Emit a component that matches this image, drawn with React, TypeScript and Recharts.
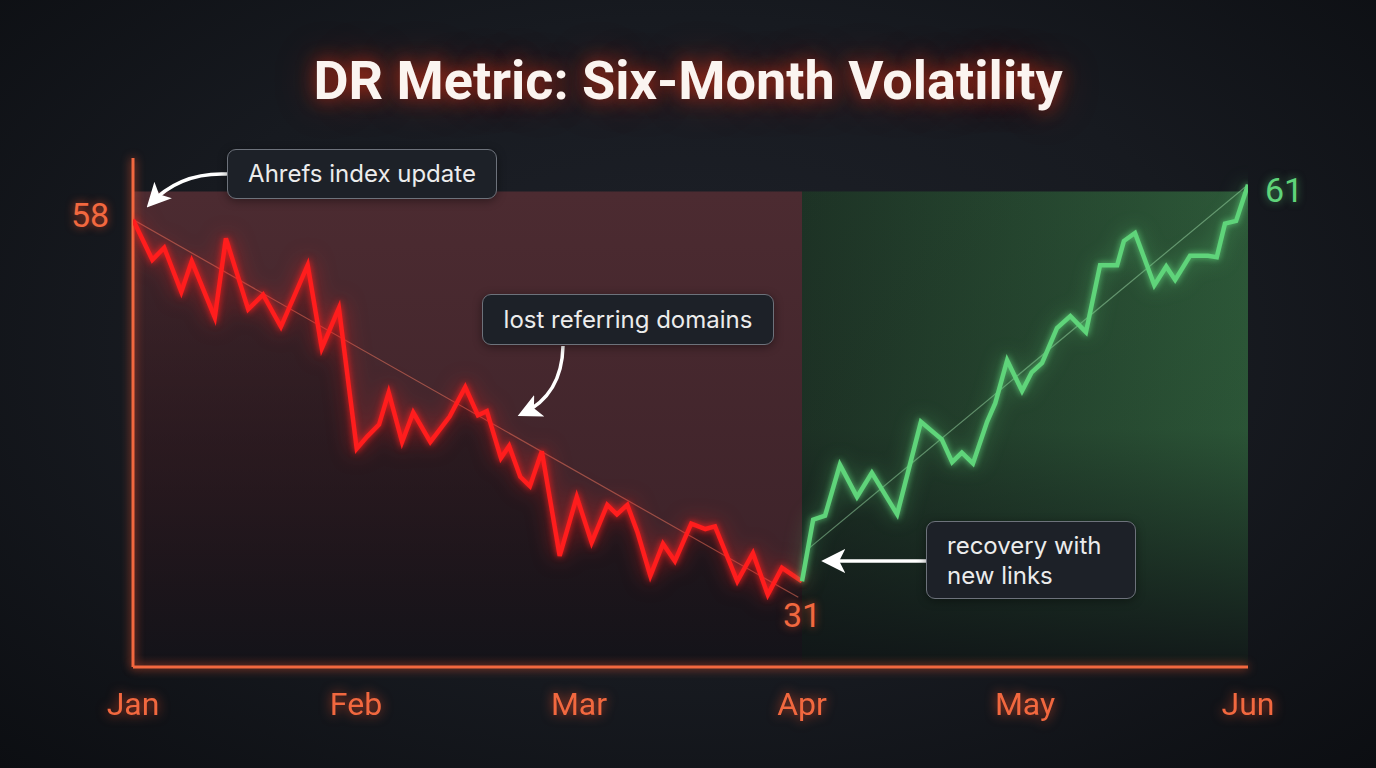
import React from "react";
import {
  ComposedChart,
  Line,
  Area,
  XAxis,
  YAxis,
  ReferenceArea,
  ReferenceLine,
} from "recharts";

/* ── Data ─────────────────────────────────────────────────── */

const monthLabels = ["Jan", "Feb", "Mar", "Apr", "May", "Jun"];
const monthTicks = [0, 30, 60, 90, 120, 150];

// day offset from Jan 1, DR value
const declineDays = [
  0, 2.6, 4.2, 6.5, 7.9, 11.0, 12.5, 15.5, 17.5, 19.9, 23.5, 25.4, 27.7, 30.1,
  31.5, 33.1, 34.4, 36.2, 37.7, 40.0, 42.6, 44.7, 46.4, 47.6, 49.5, 50.6, 52.1,
  53.4, 55.0, 57.4, 59.7, 61.7, 63.8, 65.1, 66.5, 67.9, 69.6, 71.3, 72.9, 75.1,
  77.0, 78.3, 81.3, 83.4, 85.4, 87.3, 90,
];
const declineDR = [
  58.0, 55.0, 55.9, 52.6, 54.9, 50.7, 56.6, 51.3, 52.4, 50.0, 54.6, 48.4, 51.4,
  40.9, 41.8, 42.7, 45.1, 41.4, 43.6, 41.4, 43.3, 45.5, 43.4, 43.7, 40.2, 41.1,
  38.8, 38.1, 40.7, 32.9, 37.3, 33.9, 36.7, 36.0, 36.7, 34.6, 31.4, 33.8, 32.5,
  35.3, 34.9, 35.1, 31.0, 33.1, 30.0, 32.0, 31.0,
];

const recoveryDays = [
  90, 91.5, 93.1, 95.1, 97.4, 99.4, 102.8, 106.0, 108.8, 110.2, 111.5, 113.0,
  114.9, 116.0, 117.6, 119.6, 120.9, 122.3, 124.3, 126.1, 128.2, 130.1, 132.4,
  133.3, 134.8, 137.4, 139.0, 140.2, 142.2, 144.6, 145.8, 146.9, 148.4, 150,
];
const recoveryDR = [
  31.0, 35.6, 35.9, 39.7, 37.3, 39.1, 36.0, 42.9, 41.6, 39.9, 40.6, 39.8, 42.9,
  44.3, 47.5, 45.2, 46.6, 47.3, 49.9, 50.8, 49.6, 54.6, 54.6, 56.4, 57.0, 53.1,
  54.5, 53.5, 55.3, 55.3, 55.2, 57.7, 57.9, 60.6,
];

const declineTrendDays = [0, 89.5];
const declineTrendDR = [58, 29.8];
const recoveryTrendDays = [90.8, 150];
const recoveryTrendDR = [33.4, 60.6];

const toRows = (days: number[], vals: number[]) =>
  days.map((d, i) => ({ day: d, dr: vals[i] }));

const declineRows = toRows(declineDays, declineDR);
const recoveryRows = toRows(recoveryDays, recoveryDR);
const declineTrend = toRows(declineTrendDays, declineTrendDR);
const recoveryTrend = toRows(recoveryTrendDays, recoveryTrendDR);

const Y_MIN = 24.6;
const Y_MAX = 62.6;
const BAND_TOP = 60.1;

const CORAL = "#f2683f";
const RED = "#ff1d1d";
const GREEN = "#5fd47a";

/* ── Pieces ───────────────────────────────────────────────── */

function MonthTick({ x, y, payload }: any) {
  return (
    <text
      x={x}
      y={y + 48}
      textAnchor="middle"
      fill={CORAL}
      fontSize={32}
      fontFamily="Roboto, sans-serif"
      className="glow-text"
    >
      {monthLabels[monthTicks.indexOf(payload.value)]}
    </text>
  );
}

const boxStyle: React.CSSProperties = {
  position: "absolute",
  background: "#1d2128",
  border: "1.5px solid #6d727b",
  borderRadius: 9,
  color: "#ececec",
  fontFamily: "Inter, sans-serif",
  fontSize: 24,
  boxSizing: "border-box",
  boxShadow: "0 2px 10px rgba(0,0,0,0.4)",
};

const css = `
.glow-red .recharts-line-curve { filter: drop-shadow(0 0 3px rgba(255,30,30,0.95)) drop-shadow(0 0 10px rgba(255,30,30,0.5)); }
.glow-green .recharts-line-curve { filter: drop-shadow(0 0 3px rgba(95,212,122,0.85)) drop-shadow(0 0 10px rgba(95,212,122,0.4)); }
.recharts-xAxis .recharts-cartesian-axis-line { filter: drop-shadow(0 0 5px rgba(255,90,50,0.9)); }
.axis-y line { filter: drop-shadow(0 0 5px rgba(255,90,50,0.9)); }
.glow-text { filter: drop-shadow(0 0 6px rgba(255,80,40,0.7)); }
`;

export default function App() {
  return (
    <div
      style={{
        position: "absolute",
        left: 0,
        top: 0,
        width: 1376,
        height: 768,
        overflow: "hidden",
        background:
          "radial-gradient(ellipse at 50% 45%, #1e2129 0%, #171a20 55%, #0c0e12 100%)",
      }}
    >
      <style>{css}</style>
      <div
        style={{
          position: "absolute",
          top: 48,
          left: 0,
          width: 1376,
          textAlign: "center",
          color: "#fbf4f0",
          fontFamily: "Roboto, sans-serif",
          fontWeight: 700,
          fontSize: 54,
          lineHeight: "66px",
          textShadow:
            "0 0 18px rgba(220,50,20,0.75), 0 0 40px rgba(200,40,20,0.45)",
        }}
      >
        DR Metric: Six-Month Volatility
      </div>

      <div style={{ position: "absolute", left: 0, top: 0 }}>
        <ComposedChart
          width={1376}
          height={768}
          margin={{ top: 158, right: 128, bottom: 41, left: 133 }}
        >
          <defs>
            <linearGradient id="redBand" x1="0" y1="0" x2="0" y2="1">
              <stop offset="0%" stopColor="#4c2b31" />
              <stop offset="100%" stopColor="#3a2128" />
            </linearGradient>
            <linearGradient id="redUnder" x1="0" y1="0" x2="0" y2="1">
              <stop offset="0%" stopColor="#140e12" stopOpacity={0.15} />
              <stop offset="55%" stopColor="#140f14" stopOpacity={0.55} />
              <stop offset="100%" stopColor="#101218" stopOpacity={0.92} />
            </linearGradient>
            <linearGradient id="greenBand" x1="0" y1="0" x2="1" y2="0">
              <stop offset="0%" stopColor="#1f3627" />
              <stop offset="100%" stopColor="#30603c" />
            </linearGradient>
            <linearGradient id="greenFade" x1="0" y1="0" x2="0" y2="1">
              <stop offset="0%" stopColor="#0f1316" stopOpacity={0.1} />
              <stop offset="50%" stopColor="#0f1316" stopOpacity={0.15} />
              <stop offset="100%" stopColor="#0f1316" stopOpacity={0.92} />
            </linearGradient>
          </defs>
          <XAxis
            dataKey="day"
            type="number"
            domain={[0, 150]}
            ticks={monthTicks}
            tick={<MonthTick />}
            tickLine={false}
            tickSize={0}
            tickMargin={0}
            height={60}
            axisLine={{ stroke: CORAL, strokeWidth: 3 }}
            allowDataOverflow
          />
          <YAxis
            type="number"
            domain={[Y_MIN, Y_MAX]}
            hide
            allowDataOverflow
          />
          <ReferenceArea
            x1={0}
            x2={90}
            y1={Y_MIN}
            y2={BAND_TOP}
            fill="url(#redBand)"
            fillOpacity={1}
            stroke="none"
          />
          <ReferenceArea
            x1={90}
            x2={150}
            y1={Y_MIN}
            y2={BAND_TOP}
            fill="url(#greenBand)"
            fillOpacity={1}
            stroke="none"
          />
          <ReferenceArea
            x1={90}
            x2={150}
            y1={Y_MIN}
            y2={BAND_TOP}
            fill="url(#greenFade)"
            fillOpacity={1}
            stroke="none"
          />
          <Area
            data={declineRows}
            dataKey="dr"
            type="linear"
            baseValue={Y_MIN}
            stroke="none"
            fill="url(#redUnder)"
            fillOpacity={1}
            isAnimationActive={false}
          />
          <ReferenceLine
            x={0}
            stroke={CORAL}
            strokeWidth={3}
            className="axis-y"
          />
          <Line
            data={declineTrend}
            dataKey="dr"
            type="linear"
            stroke="#e8735c"
            strokeOpacity={0.55}
            strokeWidth={1.2}
            dot={false}
            isAnimationActive={false}
          />
          <Line
            data={recoveryTrend}
            dataKey="dr"
            type="linear"
            stroke="#9fdcaa"
            strokeOpacity={0.5}
            strokeWidth={1.2}
            dot={false}
            isAnimationActive={false}
          />
          <Line
            data={declineRows}
            dataKey="dr"
            type="linear"
            stroke={RED}
            strokeWidth={4.5}
            strokeLinejoin="miter"
            dot={false}
            className="glow-red"
            isAnimationActive={false}
          />
          <Line
            data={recoveryRows}
            dataKey="dr"
            type="linear"
            stroke={GREEN}
            strokeWidth={4.5}
            strokeLinejoin="miter"
            dot={false}
            className="glow-green"
            isAnimationActive={false}
          />
        </ComposedChart>
      </div>

      {/* value labels */}
      {[
        { t: "58", x: 90, y: 215, c: CORAL, g: "rgba(255,80,40,0.7)" },
        { t: "31", x: 802, y: 615, c: CORAL, g: "rgba(255,80,40,0.7)" },
        { t: "61", x: 1284, y: 190, c: GREEN, g: "rgba(95,212,122,0.6)" },
      ].map((l) => (
        <div
          key={l.t}
          style={{
            position: "absolute",
            left: l.x - 40,
            top: l.y - 20,
            width: 80,
            height: 40,
            lineHeight: "40px",
            textAlign: "center",
            color: l.c,
            fontFamily: "Roboto, sans-serif",
            fontSize: 34,
            textShadow: `0 0 8px ${l.g}`,
          }}
        >
          {l.t}
        </div>
      ))}

      {/* arrows */}
      <svg
        width={1376}
        height={768}
        style={{ position: "absolute", left: 0, top: 0, pointerEvents: "none" }}
      >
        <defs>
          <marker
            id="headBig"
            viewBox="0 0 10 10"
            refX="8"
            refY="5"
            markerWidth="24"
            markerHeight="24"
            markerUnits="userSpaceOnUse"
            orient="auto"
          >
            <path d="M0,0 L10,5 L0,10 L2.5,5 Z" fill="#fff" />
          </marker>
        </defs>
        <path
          d="M227,174 Q180,172 150,204"
          stroke="#fff"
          strokeWidth={3.5}
          fill="none"
          markerEnd="url(#headBig)"
        />
        <path
          d="M563,346 Q562,395 522,414"
          stroke="#fff"
          strokeWidth={3.5}
          fill="none"
          markerEnd="url(#headBig)"
        />
        <path
          d="M926,561 L826,561"
          stroke="#fff"
          strokeWidth={3.5}
          fill="none"
          markerEnd="url(#headBig)"
        />
      </svg>

      {/* annotation boxes */}
      <div
        style={{
          ...boxStyle,
          left: 227,
          top: 149,
          width: 270,
          height: 50,
          lineHeight: "48px",
          textAlign: "center",
        }}
      >
        Ahrefs index update
      </div>
      <div
        style={{
          ...boxStyle,
          left: 482,
          top: 294,
          width: 292,
          height: 51,
          lineHeight: "49px",
          textAlign: "center",
        }}
      >
        lost referring domains
      </div>
      <div
        style={{
          ...boxStyle,
          left: 926,
          top: 521,
          width: 210,
          height: 78,
          lineHeight: "30px",
          padding: "9px 0 0 20px",
        }}
      >
        recovery with
        <br />
        new links
      </div>
    </div>
  );
}
